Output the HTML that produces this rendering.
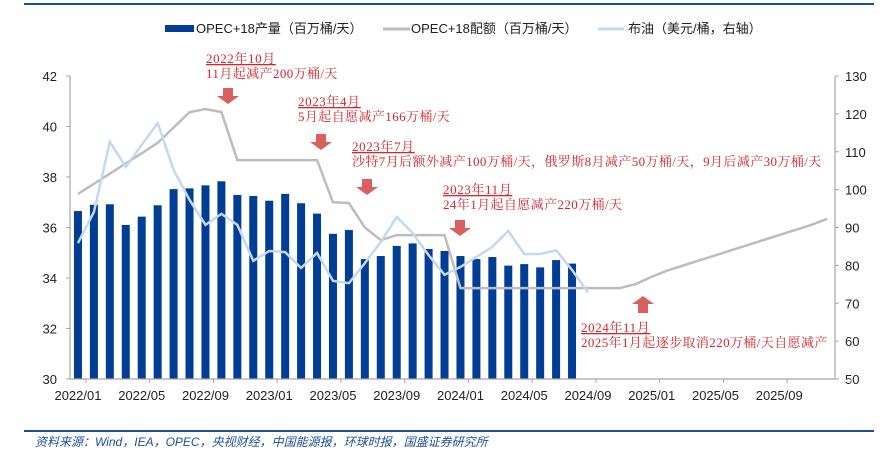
<!DOCTYPE html>
<html><head><meta charset="utf-8"><style>
body{margin:0;background:#fff;}
svg{display:block;font-family:"Liberation Sans","Noto Sans CJK SC",sans-serif;}
</style></head><body>
<svg id="c" width="884" height="453">
<line x1="24" y1="4" x2="874" y2="4" stroke="#1f4e9c" stroke-width="2"/>
<g font-size="13" fill="#222">
<rect x="165" y="25" width="29" height="7" fill="#003e95"/>
<text x="196" y="33">OPEC+18产量（百万桶/天）</text>
<line x1="383" y1="29" x2="410" y2="29" stroke="#bdbdbd" stroke-width="3"/>
<text x="411" y="33">OPEC+18配额（百万桶/天）</text>
<line x1="598" y1="29" x2="624" y2="29" stroke="#c4d8ef" stroke-width="3"/>
<text x="628" y="33">布油（美元/桶，右轴）</text>
</g>
<g id="plot"></g>
<line x1="24" y1="431" x2="874" y2="431" stroke="#1f4e9c" stroke-width="2"/>
<text x="35" y="446" font-size="12" font-style="italic" fill="#1f4e9c">资料来源：Wind，IEA，OPEC，央视财经，中国能源报，环球时报，国盛证券研究所</text>
</svg>
<script>
const production=[36.65,36.9,36.92,36.1,36.43,36.88,37.52,37.55,37.67,37.83,37.29,37.25,37.06,37.33,36.96,36.55,35.75,35.9,34.75,34.87,35.27,35.37,35.15,35.07,34.87,34.75,34.83,34.49,34.55,34.42,34.71,34.57];
const quota=[37.33,37.73,38.13,38.54,38.94,39.35,39.96,40.57,40.69,40.57,38.67,38.67,38.67,38.67,38.67,38.67,37.0,36.97,36.0,35.5,35.7,35.7,35.7,35.7,33.6,33.6,33.6,33.6,33.6,33.6,33.6,33.6,33.6,33.6,33.6,33.76,34.05,34.3,34.5,34.7,34.9,35.1,35.3,35.5,35.7,35.9,36.1,36.34];
const brent=[85.9,94.1,112.6,106,111.8,117.6,105.2,97.3,90.7,93.6,90.7,81.2,83.8,83.5,79.3,83.3,75.9,75.3,80.6,86.2,92.8,88.5,82.7,77.5,79.6,82.2,84.9,89.1,83,83,84,78.8,72.8];
const xLabels=["2022/01","2022/05","2022/09","2023/01","2023/05","2023/09","2024/01","2024/05","2024/09","2025/01","2025/05","2025/09"];
const leftTicks=[30,32,34,36,38,40,42];
const rightTicks=[50,60,70,80,90,100,110,120,130];
const NS="http://www.w3.org/2000/svg";
const g=document.getElementById('plot');
const X0=70,X1=835,Y0=379,Y1=76,N=48,bw=(X1-X0)/N;
const xc=i=>X0+(i+0.5)*bw;
const yl=v=>Y0-(v-30)/(42-30)*(Y0-Y1);
const yr=v=>Y0-(v-50)/(130-50)*(Y0-Y1);
function el(t,a,parent){const e=document.createElementNS(NS,t);for(const k in a)e.setAttribute(k,a[k]);(parent||g).appendChild(e);return e;}
production.forEach((v,i)=>{
 const r=el('rect',{x:xc(i)-4,y:yl(v),width:8,height:Y0-yl(v),fill:'#003e95'});
 
 
});
const q=el('polyline',{points:quota.map((v,i)=>xc(i)+','+yl(v)).join(' '),fill:'none',stroke:'#bdbdbd','stroke-width':2.5});


const b=el('polyline',{points:brent.map((v,i)=>xc(i)+','+yr(v)).join(' '),fill:'none',stroke:'#c4d8ef','stroke-width':2.5});


const ax=el('path',{d:`M${X0},${Y1}V${Y0}H${X1}V${Y1}`,fill:'none',stroke:'#a6a6a6','stroke-width':1.2});


leftTicks.forEach(v=>{
 el('line',{x1:X0-4,x2:X0,y1:yl(v),y2:yl(v),stroke:'#a6a6a6'});
 const t=el('text',{x:57,y:yl(v)+5,'text-anchor':'end','font-size':13,fill:'#222'});t.textContent=v;
 
 
});
rightTicks.forEach(v=>{
 el('line',{x1:X1,x2:X1+4,y1:yr(v),y2:yr(v),stroke:'#a6a6a6'});
 const t=el('text',{x:845,y:yr(v)+5,'font-size':13,fill:'#222'});t.textContent=v;
 
 
});
for(let i=0;i<=N;i+=4){el('line',{x1:X0+(i+1)*bw,x2:X0+(i+1)*bw,y1:Y0,y2:Y0+4,stroke:'#a6a6a6'});}
xLabels.forEach((s,k)=>{
 const t=el('text',{x:xc(k*4),y:400,'text-anchor':'middle','font-size':13,fill:'#222'});t.textContent=s;
 
 
});
const notes=[
 [206,63,'2022年10月','11月起减产200万桶/天',228,88,false],
 [298,106,'2023年4月','5月起自愿减产166万桶/天',321,134,false],
 [352,151,'2023年7月','沙特7月后额外减产100万桶/天，俄罗斯8月减产50万桶/天，9月后减产30万桶/天',367,179,false],
 [443,194,'2023年11月','24年1月起自愿减产220万桶/天',460,220,false],
 [581,332,'2024年11月','2025年1月起逐步取消220万桶/天自愿减产',643,296,true]
];
notes.forEach(n=>{
 const t1=el('text',{x:n[0],y:n[1],'font-size':13,'letter-spacing':0.6,fill:'#d7262b','font-family':'"Liberation Serif","Noto Serif CJK SC",serif','text-decoration':'underline'});t1.textContent=n[2];
 
 
 const t2=el('text',{x:n[0],y:n[1]+15,'font-size':13,'letter-spacing':0.4,fill:'#d7262b','font-family':'"Liberation Serif","Noto Serif CJK SC",serif'});t2.textContent=n[3];
 
 
 const x=n[4],y=n[5];
 const d=n[6]?`M${x-5},${y+17}V${y+8}H${x-11}L${x},${y}L${x+11},${y+8}H${x+5}V${y+17}Z`:`M${x-5},${y}V${y+8}H${x-11}L${x},${y+16}L${x+11},${y+8}H${x+5}V${y}Z`;
 const a=el('path',{d:d,fill:'#d9605f'});
 
 
});
</script>
</body></html>
